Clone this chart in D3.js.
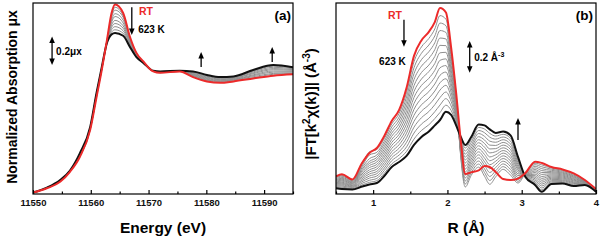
<!DOCTYPE html>
<html>
<head>
<meta charset="utf-8">
<script src="https://cdn.jsdelivr.net/npm/d3@7"></script>
<style>
  body { margin: 0; background: #fff; }
  svg { display: block; font-family: "Liberation Sans", Arial, sans-serif; font-weight: bold; }
</style>
</head>
<body>
<div id="chart"></div>
<script>
// ---- panel (a): XANES, energy grid and curves ----
var aEnergy = [11550, 11552.4, 11554.7, 11556.4, 11558.1, 11559.9, 11561.0, 11561.9, 11562.8, 11563.6,
  11564.2, 11565.6, 11566.8, 11567.9, 11569.1, 11570.8, 11572.0, 11575.4, 11577.7, 11580.1,
  11582.4, 11584.7, 11588.1, 11591.6, 11595];
var aRT = [0.01, 0.04, 0.086, 0.156, 0.26, 0.45, 0.68, 0.87, 1.08, 1.27, 1.33, 1.27, 1.10, 0.99, 0.93,
  0.86, 0.85, 0.86, 0.82, 0.79, 0.78, 0.79, 0.81, 0.83, 0.84];
var a623 = [0.01, 0.045, 0.098, 0.165, 0.285, 0.47, 0.71, 0.89, 1.06, 1.12, 1.13, 1.11, 1.03, 0.96, 0.92,
  0.865, 0.86, 0.865, 0.86, 0.835, 0.82, 0.825, 0.87, 0.905, 0.89];
// intermediate temperatures, one row per energy point, one column per curve
var aGrayRows = [
  [0.01, 0.01, 0.01, 0.01, 0.01, 0.01, 0.01, 0.01],
  [0.04, 0.041, 0.041, 0.042, 0.043, 0.043, 0.044, 0.044],
  [0.09, 0.09, 0.09, 0.091, 0.093, 0.094, 0.095, 0.097],
  [0.157, 0.158, 0.159, 0.16, 0.161, 0.162, 0.163, 0.164],
  [0.26, 0.265, 0.27, 0.27, 0.274, 0.277, 0.28, 0.282],
  [0.45, 0.455, 0.455, 0.46, 0.461, 0.463, 0.466, 0.468],
  [0.68, 0.685, 0.69, 0.693, 0.697, 0.70, 0.703, 0.707],
  [0.87, 0.875, 0.877, 0.88, 0.881, 0.883, 0.886, 0.888],
  [1.08, 1.075, 1.073, 1.071, 1.069, 1.067, 1.064, 1.062],
  [1.25, 1.24, 1.22, 1.205, 1.186, 1.17, 1.153, 1.137],
  [1.31, 1.29, 1.265, 1.245, 1.218, 1.196, 1.174, 1.152],
  [1.25, 1.24, 1.22, 1.20, 1.18, 1.163, 1.145, 1.128],
  [1.09, 1.085, 1.077, 1.07, 1.06, 1.053, 1.045, 1.038],
  [0.99, 0.985, 0.98, 0.977, 0.973, 0.97, 0.967, 0.963],
  [0.93, 0.93, 0.927, 0.926, 0.924, 0.923, 0.922, 0.921],
  [0.86, 0.86, 0.862, 0.862, 0.863, 0.863, 0.864, 0.864],
  [0.85, 0.852, 0.853, 0.854, 0.856, 0.857, 0.858, 0.859],
  [0.86, 0.861, 0.862, 0.862, 0.863, 0.863, 0.864, 0.864],
  [0.825, 0.83, 0.833, 0.838, 0.842, 0.847, 0.851, 0.856],
  [0.795, 0.80, 0.805, 0.81, 0.815, 0.82, 0.825, 0.83],
  [0.785, 0.79, 0.793, 0.798, 0.802, 0.807, 0.811, 0.816],
  [0.795, 0.80, 0.802, 0.805, 0.81, 0.813, 0.817, 0.821],
  [0.815, 0.823, 0.83, 0.836, 0.844, 0.85, 0.857, 0.863],
  [0.84, 0.846, 0.855, 0.863, 0.872, 0.88, 0.889, 0.897],
  [0.845, 0.85, 0.857, 0.862, 0.868, 0.873, 0.879, 0.884]
];
var aTicks = [11550, 11560, 11570, 11580, 11590];
var aMinor = [11555, 11565, 11575, 11585, 11595];

// ---- panel (b): FT magnitude, R grid and curves ----
var bR = [0.5, 0.58, 0.72, 0.85, 0.95, 1.05, 1.15, 1.25, 1.35, 1.45, 1.55, 1.65, 1.75, 1.83, 1.9, 1.98,
  2.05, 2.12, 2.18, 2.24, 2.32, 2.42, 2.5, 2.57, 2.65, 2.75, 2.85, 2.95, 3.05, 3.18, 3.27, 3.4,
  3.55, 3.7, 3.85, 4.0];
var bRT = [0.11, 0.124, 0.091, 0.195, 0.258, 0.289, 0.365, 0.459, 0.528, 0.667, 0.868, 0.965, 1.019,
  1.08, 1.168, 1.14, 0.92, 0.623, 0.333, 0.126, 0.136, 0.148, 0.176, 0.17, 0.138, 0.094, 0.088,
  0.097, 0.132, 0.203, 0.195, 0.17, 0.154, 0.129, 0.088, 0.031];
var b623 = [0.036, 0.031, 0.028, 0.047, 0.06, 0.069, 0.113, 0.17, 0.201, 0.239, 0.308, 0.358, 0.393,
  0.431, 0.465, 0.516, 0.497, 0.428, 0.358, 0.308, 0.358, 0.437, 0.431, 0.406, 0.384, 0.392, 0.368,
  0.233, 0.107, 0.057, 0.014, 0.063, 0.066, 0.05, 0.057, 0.014];
var bGrayRows = [
  [0.105, 0.10, 0.095, 0.09, 0.085, 0.08, 0.075, 0.071, 0.066, 0.061, 0.056, 0.051, 0.046, 0.041],
  [0.118, 0.112, 0.105, 0.099, 0.093, 0.087, 0.081, 0.074, 0.068, 0.062, 0.056, 0.05, 0.043, 0.037],
  [0.087, 0.083, 0.078, 0.074, 0.07, 0.066, 0.062, 0.057, 0.053, 0.049, 0.045, 0.041, 0.036, 0.032],
  [0.185, 0.175, 0.165, 0.155, 0.146, 0.136, 0.126, 0.116, 0.106, 0.096, 0.086, 0.077, 0.067, 0.057],
  [0.265, 0.245, 0.222, 0.205, 0.192, 0.179, 0.166, 0.152, 0.139, 0.126, 0.113, 0.10, 0.086, 0.073],
  [0.28, 0.262, 0.245, 0.23, 0.216, 0.201, 0.186, 0.172, 0.157, 0.142, 0.128, 0.113, 0.098, 0.084],
  [0.348, 0.331, 0.315, 0.298, 0.281, 0.264, 0.247, 0.231, 0.214, 0.197, 0.18, 0.163, 0.147, 0.13],
  [0.44, 0.421, 0.401, 0.382, 0.363, 0.343, 0.324, 0.305, 0.286, 0.266, 0.247, 0.228, 0.209, 0.189],
  [0.506, 0.484, 0.463, 0.441, 0.419, 0.397, 0.375, 0.354, 0.332, 0.31, 0.288, 0.266, 0.245, 0.223],
  [0.638, 0.61, 0.581, 0.553, 0.524, 0.496, 0.467, 0.439, 0.41, 0.382, 0.353, 0.325, 0.296, 0.268],
  [0.831, 0.793, 0.756, 0.719, 0.681, 0.644, 0.607, 0.569, 0.532, 0.495, 0.457, 0.42, 0.383, 0.345],
  [0.924, 0.884, 0.844, 0.803, 0.763, 0.722, 0.682, 0.641, 0.601, 0.56, 0.52, 0.479, 0.439, 0.399],
  [0.977, 0.936, 0.894, 0.852, 0.81, 0.769, 0.727, 0.685, 0.643, 0.602, 0.56, 0.518, 0.476, 0.435],
  [1.037, 0.993, 0.95, 0.907, 0.864, 0.82, 0.777, 0.734, 0.691, 0.647, 0.604, 0.561, 0.517, 0.474],
  [1.121, 1.074, 1.027, 0.98, 0.934, 0.887, 0.84, 0.793, 0.746, 0.699, 0.653, 0.606, 0.559, 0.512],
  [1.098, 1.057, 1.015, 0.974, 0.932, 0.89, 0.849, 0.807, 0.766, 0.724, 0.683, 0.641, 0.599, 0.558],
  [0.892, 0.864, 0.835, 0.807, 0.779, 0.751, 0.723, 0.695, 0.666, 0.638, 0.61, 0.582, 0.553, 0.525],
  [0.61, 0.597, 0.584, 0.571, 0.558, 0.545, 0.532, 0.519, 0.506, 0.493, 0.48, 0.467, 0.454, 0.441],
  [0.229, 0.238, 0.248, 0.257, 0.266, 0.275, 0.284, 0.294, 0.303, 0.312, 0.321, 0.33, 0.34, 0.349],
  [0.044, 0.063, 0.082, 0.101, 0.119, 0.138, 0.157, 0.176, 0.195, 0.214, 0.232, 0.251, 0.27, 0.289],
  [0.117, 0.134, 0.152, 0.169, 0.186, 0.203, 0.22, 0.238, 0.255, 0.272, 0.289, 0.306, 0.324, 0.341],
  [0.169, 0.188, 0.207, 0.227, 0.246, 0.265, 0.284, 0.303, 0.322, 0.341, 0.36, 0.38, 0.399, 0.418],
  [0.111, 0.134, 0.157, 0.18, 0.202, 0.225, 0.248, 0.271, 0.294, 0.317, 0.339, 0.362, 0.385, 0.408],
  [0.061, 0.085, 0.11, 0.135, 0.159, 0.184, 0.209, 0.233, 0.258, 0.283, 0.307, 0.332, 0.357, 0.381],
  [0.108, 0.127, 0.147, 0.167, 0.187, 0.206, 0.226, 0.246, 0.266, 0.285, 0.305, 0.325, 0.345, 0.364],
  [0.155, 0.172, 0.189, 0.206, 0.223, 0.24, 0.257, 0.273, 0.29, 0.307, 0.324, 0.341, 0.358, 0.375],
  [0.118, 0.136, 0.154, 0.172, 0.189, 0.207, 0.225, 0.243, 0.261, 0.279, 0.296, 0.314, 0.332, 0.35],
  [0.069, 0.08, 0.092, 0.104, 0.116, 0.127, 0.139, 0.151, 0.163, 0.174, 0.186, 0.198, 0.21, 0.221],
  [0.13, 0.129, 0.127, 0.125, 0.124, 0.122, 0.12, 0.119, 0.117, 0.115, 0.114, 0.112, 0.11, 0.109],
  [0.193, 0.184, 0.174, 0.164, 0.154, 0.145, 0.135, 0.125, 0.115, 0.106, 0.096, 0.086, 0.076, 0.067],
  [0.183, 0.171, 0.159, 0.147, 0.135, 0.123, 0.11, 0.098, 0.086, 0.074, 0.062, 0.05, 0.038, 0.026],
  [0.163, 0.156, 0.149, 0.141, 0.134, 0.127, 0.12, 0.113, 0.106, 0.099, 0.092, 0.084, 0.077, 0.07],
  [0.148, 0.142, 0.136, 0.131, 0.125, 0.119, 0.113, 0.107, 0.101, 0.095, 0.089, 0.084, 0.078, 0.072],
  [0.124, 0.118, 0.113, 0.108, 0.103, 0.097, 0.092, 0.087, 0.082, 0.076, 0.071, 0.066, 0.061, 0.055],
  [0.086, 0.084, 0.082, 0.08, 0.078, 0.076, 0.074, 0.071, 0.069, 0.067, 0.065, 0.063, 0.061, 0.059],
  [0.03, 0.029, 0.028, 0.026, 0.025, 0.024, 0.023, 0.022, 0.021, 0.02, 0.019, 0.017, 0.016, 0.015]
];
var bTicks = [1, 2, 3, 4];
var bMinor = [0.5, 1.5, 2.5, 3.5];

var RED = "#ec2a2a", GRAY = "#8e8e8e", BLACK = "#111";

var svg = d3.select("#chart").append("svg")
    .attr("width", 602)
    .attr("height", 241);

// arrow with a filled head at (x, y2); both = heads at both ends
function drawArrow(g, x, y1, y2, both) {
  var dir = y2 > y1 ? 1 : -1;
  g.append("line")
      .attr("x1", x).attr("x2", x)
      .attr("y1", both ? y1 + dir * 5 : y1)
      .attr("y2", y2 - dir * 5)
      .attr("stroke", "#000")
      .attr("stroke-width", 1.3);
  var heads = both ? [[y2, dir], [y1, -dir]] : [[y2, dir]];
  heads.forEach(function(h) {
    g.append("path")
        .attr("d", "M" + (x - 2.8) + "," + (h[0] - h[1] * 6.5) + "L" + (x + 2.8) + "," + (h[0] - h[1] * 6.5) +
          "L" + x + "," + h[0] + "Z")
        .attr("fill", "#000");
  });
}

function drawPanel(id, box, xDomain, yDomain, grid, rt, hot, grayRows, ticks, minor, fmt) {
  var x = d3.scaleLinear().domain(xDomain).range([box.left, box.right]);
  var y = d3.scaleLinear().domain(yDomain).range([box.bottom, box.top]);
  var g = svg.append("g");

  g.append("clipPath").attr("id", "clip" + id)
    .append("rect")
      .attr("x", box.left).attr("y", box.top)
      .attr("width", box.right - box.left).attr("height", box.bottom - box.top);

  var line = d3.line()
      .x(function(d) { return x(d[0]); })
      .y(function(d) { return y(d[1]); })
      .curve(d3.curveMonotoneX);

  var nGray = grayRows[0].length;
  var grays = d3.range(nGray).map(function(k) {
    return grid.map(function(v, i) { return [v, grayRows[i][k]]; });
  });

  var curves = g.append("g").attr("clip-path", "url(#clip" + id + ")");
  curves.selectAll("path.gray")
    .data(grays)
    .enter()
    .append("path")
      .attr("class", "gray")
      .attr("fill", "none")
      .attr("stroke", GRAY)
      .attr("stroke-width", 1)
      .attr("d", line);
  curves.append("path")
      .datum(grid.map(function(v, i) { return [v, hot[i]]; }))
      .attr("fill", "none")
      .attr("stroke", BLACK)
      .attr("stroke-width", 2)
      .attr("d", line);
  curves.append("path")
      .datum(grid.map(function(v, i) { return [v, rt[i]]; }))
      .attr("fill", "none")
      .attr("stroke", RED)
      .attr("stroke-width", 2)
      .attr("d", line);

  // frame
  g.append("rect")
      .attr("x", box.left).attr("y", box.top)
      .attr("width", box.right - box.left).attr("height", box.bottom - box.top)
      .attr("fill", "none")
      .attr("stroke", "#000")
      .attr("stroke-width", 1.2);

  // x axis, ticks pointing inward
  var ax = g.append("g")
      .attr("transform", "translate(0," + box.bottom + ")")
      .call(d3.axisBottom(x).tickValues(ticks).tickSize(-4).tickPadding(5).tickFormat(fmt));
  ax.select(".domain").remove();
  ax.selectAll("text").attr("font-size", "9.5px").attr("font-family", null).attr("fill", "#111");
  ax.selectAll("line").attr("stroke-width", 1.2);
  var am = g.append("g")
      .attr("transform", "translate(0," + box.bottom + ")")
      .call(d3.axisBottom(x).tickValues(minor).tickSize(-2.5).tickFormat(""));
  am.select(".domain").remove();
  am.selectAll("line").attr("stroke-width", 1.2);

  return {x: x, y: y, g: g};
}

// ---- panel (a) ----
var pa = drawPanel("a", {left: 33, right: 293, top: 3, bottom: 194}, [11550, 11595], [0, 1.34],
  aEnergy, aRT, a623, aGrayRows, aTicks, aMinor, d3.format("d"));

pa.g.append("text")
    .attr("x", 163).attr("y", 233)
    .attr("text-anchor", "middle")
    .attr("font-size", "15.5px")
    .text("Energy (eV)");
pa.g.append("text")
    .attr("transform", "translate(17,97) rotate(-90)")
    .attr("text-anchor", "middle")
    .attr("font-size", "14px")
    .text("Normalized Absorption \u03bcx");
pa.g.append("text")
    .attr("x", 291).attr("y", 20)
    .attr("text-anchor", "end")
    .attr("font-size", "13.5px")
    .text("(a)");
pa.g.append("text")
    .attr("x", pa.x(11568.35)).attr("y", pa.y(1.253))
    .attr("font-size", "10.5px").attr("fill", RED)
    .text("RT");
pa.g.append("text")
    .attr("x", pa.x(11568.2)).attr("y", pa.y(1.13))
    .attr("font-size", "10px")
    .text("623 K");
pa.g.append("text")
    .attr("x", pa.x(11554)).attr("y", pa.y(0.975))
    .attr("font-size", "10px")
    .text("0.2\u03bcx");
drawArrow(pa.g, pa.x(11567.1), pa.y(1.31), pa.y(1.116), false);
drawArrow(pa.g, pa.x(11553.3), pa.y(1.105), pa.y(0.905), true);
drawArrow(pa.g, pa.x(11579.1), pa.y(0.891), pa.y(0.996), false);
drawArrow(pa.g, pa.x(11591.4), pa.y(0.926), pa.y(1.032), false);

// ---- panel (b) ----
var pb = drawPanel("b", {left: 336, right: 596, top: 3, bottom: 194}, [0.5, 4], [0, 1.2],
  bR, bRT, b623, bGrayRows, bTicks, bMinor, d3.format("d"));

pb.g.append("text")
    .attr("x", 466).attr("y", 233)
    .attr("text-anchor", "middle")
    .attr("font-size", "15.5px")
    .text("R (\u00c5)");
var yl = pb.g.append("text")
    .attr("transform", "translate(316,104) rotate(-90)")
    .attr("text-anchor", "middle")
    .attr("font-size", "15px");
yl.append("tspan").text("|FT[k");
yl.append("tspan").attr("dy", -6).attr("font-size", "10px").text("2");
yl.append("tspan").attr("dy", 6).text("\u03c7(k)]| (\u00c5");
yl.append("tspan").attr("dy", -6).attr("font-size", "10px").text("-3");
yl.append("tspan").attr("dy", 6).text(")");
pb.g.append("text")
    .attr("x", 593).attr("y", 20)
    .attr("text-anchor", "end")
    .attr("font-size", "13.5px")
    .text("(b)");
pb.g.append("text")
    .attr("x", pb.x(1.2)).attr("y", pb.y(1.10))
    .attr("font-size", "10.5px").attr("fill", RED)
    .text("RT");
pb.g.append("text")
    .attr("x", pb.x(1.08)).attr("y", pb.y(0.81))
    .attr("font-size", "10px")
    .text("623 K");
var sl = pb.g.append("text")
    .attr("x", pb.x(2.36)).attr("y", pb.y(0.836))
    .attr("font-size", "10px");
sl.append("tspan").text("0.2 \u00c5");
sl.append("tspan").attr("dy", -4).attr("font-size", "7px").text("-3");
drawArrow(pb.g, pb.x(1.415), pb.y(1.094), pb.y(0.925), false);
drawArrow(pb.g, pb.x(2.30), pb.y(0.962), pb.y(0.761), true);
drawArrow(pb.g, pb.x(2.95), pb.y(0.34), pb.y(0.478), false);
</script>
</body>
</html>
